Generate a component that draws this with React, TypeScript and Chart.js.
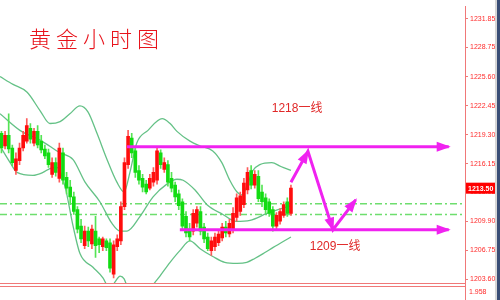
import { useEffect, useRef } from "react";
import { Chart, registerables } from "chart.js";

Chart.register(...registerables);

// Hourly gold candles, oldest first
const opens = [
  1219.45, 1218.07, 1219.24, 1217.86, 1215.42, 1216.48, 1217.86, 1218.6, 1219.98, 1218.39,
  1219.66, 1218.6, 1217.75, 1217.33, 1215.0, 1216.27, 1214.57, 1217.33, 1214.68, 1213.62,
  1212.56, 1211.18, 1209.38, 1207.26, 1208.85, 1207.47, 1208.85, 1208.0, 1207.15, 1207.79,
  1207.58, 1204.19, 1207.15, 1207.79, 1211.5, 1216.06, 1218.92, 1217.54, 1215.42, 1214.57,
  1213.94, 1213.51, 1214.15, 1214.36, 1217.33, 1215.53, 1216.06, 1214.57, 1213.83, 1212.88,
  1212.03, 1210.44, 1209.06, 1208.85, 1209.7, 1210.97, 1209.27, 1208.21, 1206.73, 1207.15,
  1207.58, 1208.11, 1209.27, 1208.53, 1209.06, 1210.33, 1210.97, 1211.71, 1213.3, 1215.42,
  1213.83, 1214.79, 1213.09, 1212.45, 1212.03, 1211.18, 1209.38, 1209.91, 1210.55, 1212.03,
  1210.76,
];
const highs = [
  1219.66, 1219.66, 1221.57, 1218.18, 1217.33, 1218.39, 1219.66, 1221.04, 1220.51, 1219.98,
  1220.3, 1219.24, 1218.18, 1217.75, 1216.8, 1216.8, 1218.39, 1217.86, 1215.21, 1214.36,
  1213.09, 1211.5, 1210.12, 1209.38, 1209.27, 1209.49, 1210.44, 1208.21, 1208.21, 1208.0,
  1208.0, 1207.79, 1208.43, 1212.03, 1216.8, 1219.77, 1219.45, 1217.86, 1215.95, 1215.0,
  1214.36, 1215.0, 1215.74, 1217.86, 1217.65, 1216.8, 1216.48, 1215.21, 1214.15, 1213.3,
  1212.35, 1210.97, 1209.7, 1211.18, 1211.5, 1211.5, 1209.7, 1208.64, 1208.21, 1208.64,
  1208.85, 1209.7, 1209.91, 1210.12, 1211.39, 1212.88, 1213.09, 1214.57, 1215.74, 1215.95,
  1215.42, 1215.42, 1213.83, 1212.88, 1212.35, 1211.5, 1210.86, 1211.29, 1212.03, 1212.45,
  1213.83,
];
const lows = [
  1217.33, 1217.75, 1217.33, 1215.95, 1215.0, 1216.06, 1217.54, 1218.39, 1218.39, 1218.07,
  1217.86, 1217.33, 1216.69, 1215.74, 1214.68, 1214.79, 1214.15, 1213.94, 1212.88, 1211.71,
  1210.65, 1208.64, 1207.58, 1206.94, 1207.15, 1206.94, 1205.99, 1206.52, 1206.73, 1206.73,
  1204.4, 1203.76, 1206.73, 1207.37, 1211.18, 1215.63, 1216.8, 1214.68, 1213.94, 1213.09,
  1212.88, 1213.3, 1213.73, 1213.94, 1215.63, 1215.21, 1213.73, 1213.09, 1212.03, 1211.18,
  1209.06, 1208.21, 1207.79, 1208.43, 1209.27, 1208.43, 1207.58, 1206.73, 1206.2, 1206.73,
  1207.26, 1207.79, 1208.21, 1208.21, 1208.64, 1209.91, 1210.55, 1211.39, 1212.88, 1213.41,
  1213.51, 1212.03, 1211.5, 1210.76, 1210.44, 1208.85, 1209.06, 1209.59, 1210.33, 1210.44,
  1210.55,
];
const closes = [
  1217.86, 1219.24, 1217.75, 1216.27, 1216.69, 1217.86, 1219.24, 1220.3, 1218.81, 1219.66,
  1218.18, 1217.65, 1217.01, 1216.06, 1216.27, 1215.21, 1217.86, 1214.36, 1213.51, 1212.56,
  1210.97, 1209.06, 1208.0, 1208.85, 1207.79, 1209.06, 1207.26, 1207.37, 1208.0, 1207.05,
  1204.82, 1207.37, 1208.0, 1211.5, 1216.27, 1219.13, 1217.33, 1215.21, 1214.36, 1213.62,
  1213.09, 1214.57, 1215.21, 1217.54, 1216.06, 1216.27, 1214.15, 1213.51, 1212.56, 1211.61,
  1209.38, 1208.64, 1208.21, 1210.76, 1211.18, 1208.85, 1208.0, 1206.94, 1207.79, 1208.21,
  1208.53, 1209.27, 1208.64, 1209.7, 1210.76, 1212.45, 1212.67, 1214.04, 1215.21, 1213.83,
  1215.0, 1212.35, 1212.03, 1211.18, 1210.76, 1209.38, 1210.55, 1210.97, 1211.71, 1210.76,
  1213.5,
];

// Bollinger bands, sampled as [bar index, price]
const upperBand = [
  [-0.4, 1225.6], [3.2, 1224.75], [7.1, 1223.9], [10.7, 1221.89], [13.4, 1220.51],
  [16.2, 1220.72], [18.9, 1221.57], [21.7, 1222.42], [23.9, 1221.78], [26.4, 1219.45],
  [29.2, 1216.59], [31.9, 1214.15], [33.9, 1213.09], [35.5, 1215.21], [37.4, 1218.39],
  [40.5, 1219.77], [44.4, 1221.04], [46.6, 1220.51], [48.5, 1219.66], [52.1, 1218.6],
  [54.9, 1218.07], [58.4, 1217.54], [60.9, 1216.27], [63.1, 1214.36], [65.1, 1213.09],
  [66.5, 1212.77], [67.9, 1213.83], [69.5, 1215.42], [71.4, 1216.06], [74.7, 1216.27],
  [77.2, 1215.85], [80.0, 1215.42],
];
const middleBand = [
  [-0.4, 1221.57], [5.1, 1219.77], [10.7, 1218.71], [16.2, 1217.33], [19.8, 1216.59],
  [23.1, 1214.15], [27.2, 1212.03], [30.5, 1209.7], [32.8, 1208.85], [34.7, 1208.85],
  [38.3, 1210.44], [41.9, 1212.56], [45.7, 1213.94], [48.5, 1214.47], [50.2, 1214.36],
  [53.5, 1213.3], [56.8, 1211.71], [61.2, 1210.65], [64.8, 1209.91], [68.7, 1210.02],
  [73.4, 1210.76], [80.0, 1211.61],
];
const lowerBand = [
  [-0.4, 1218.07], [2.4, 1216.27], [4.3, 1215.21], [8.7, 1214.89], [11.5, 1215.21],
  [13.4, 1215.63], [15.4, 1215.74], [17.6, 1213.62], [19.8, 1209.38], [21.7, 1206.41],
  [25.3, 1204.93], [28.1, 1203.76], [30.0, 1202.49], [31.4, 1203.34], [32.8, 1203.97],
  [33.9, 1203.66], [35.5, 1201.96], [38.3, 1200.37], [41.0, 1202.49], [43.8, 1203.97],
  [46.6, 1205.46], [49.3, 1206.73], [52.1, 1207.79], [54.9, 1206.94], [58.4, 1206.09],
  [61.7, 1205.46], [65.1, 1205.35], [67.8, 1205.46], [70.0, 1205.88], [72.8, 1206.52],
  [75.0, 1207.05], [80.0, 1208.21],
];

// Dash-dot reference levels
const refLevels = [1211.81, 1210.65];

// Support / resistance levels and the projected path
const resistanceLevel = 1218;
const supportLevel = 1209;
const projectedPath = [
  [80, 1214.15], [84.7, 1217.5], [91.6, 1209.0], [97.9, 1212.24],
];

const yTicks = [1203.6, 1206.75, 1209.9, 1213.05, 1216.15, 1219.3, 1222.45, 1225.6, 1228.75, 1231.85];
const subPanelValue = "1.958";
const title = "黄金小时图";

const X_MIN = -0.4;
const X_MAX = 128.1;
const MAGENTA = "#f022f0";
const UP = "#ff0d0d";
const DOWN = "#12dc12";

const pts = (arr: number[][]) => arr.map(([x, y]) => ({ x, y }));

function arrowHead(ctx: CanvasRenderingContext2D, from: any, to: any, len: number, half: number) {
  const a = Math.atan2(to.y - from.y, to.x - from.x);
  const c = Math.cos(a);
  const s = Math.sin(a);
  ctx.beginPath();
  ctx.moveTo(to.x + 2 * c, to.y + 2 * s);
  ctx.lineTo(to.x - len * c + half * s, to.y - len * s - half * c);
  ctx.lineTo(to.x - len * c - half * s, to.y - len * s + half * c);
  ctx.closePath();
  ctx.fill();
}

const overlay = {
  id: "overlay",
  afterDatasetsDraw(chart: any) {
    const ctx = chart.ctx;
    ctx.save();
    ctx.fillStyle = MAGENTA;
    chart.data.datasets.forEach((ds: any, i: number) => {
      if (!ds.arrow) return;
      const meta = chart.getDatasetMeta(i);
      const p = meta.data;
      for (let k = 1; k < p.length; k++) {
        arrowHead(ctx, p[k - 1], p[k], ds.arrow[0], ds.arrow[1]);
      }
    });
    ctx.restore();
  },
  afterDraw(chart: any) {
    const ctx = chart.ctx;
    const xs = chart.scales.x;
    const ys = chart.scales.y;
    const area = chart.chartArea;
    ctx.save();

    // title
    ctx.fillStyle = "#e8141c";
    ctx.font = '300 22px "Noto Sans CJK SC"';
    ctx.textBaseline = "alphabetic";
    ctx.textAlign = "left";
    (ctx as any).letterSpacing = "5px";
    ctx.fillText(title, 29, 47);
    (ctx as any).letterSpacing = "0px";

    // level labels
    ctx.fillStyle = "#e02828";
    ctx.font = '12px "Liberation Sans", "Noto Sans CJK SC"';
    ctx.textBaseline = "middle";
    ctx.fillText(`${resistanceLevel}一线`, xs.getPixelForValue(74.7), ys.getPixelForValue(1222.1));
    ctx.fillText(`${supportLevel}一线`, xs.getPixelForValue(85.2), ys.getPixelForValue(1207.15));

    // sub panel separator and axis continuation
    ctx.strokeStyle = "#f07878";
    ctx.lineWidth = 1;
    ctx.beginPath();
    ctx.moveTo(0, area.bottom + 0.5);
    ctx.lineTo(area.right + 1, area.bottom + 0.5);
    ctx.moveTo(0, area.bottom + 3.5);
    ctx.lineTo(area.right + 1, area.bottom + 3.5);
    ctx.moveTo(area.right + 0.5, area.bottom);
    ctx.lineTo(area.right + 0.5, 300);
    ctx.stroke();
    ctx.fillStyle = "#ff2a2a";
    ctx.font = '7px "Liberation Sans"';
    ctx.textBaseline = "middle";
    ctx.fillText(subPanelValue, area.right + 4, area.bottom + 9);

    // last price box
    const last = closes[closes.length - 1];
    const py = ys.getPixelForValue(last);
    ctx.fillStyle = "#ff0000";
    ctx.fillRect(area.right + 1, py - 5.5, 30, 11);
    ctx.fillStyle = "#ffffff";
    ctx.font = 'bold 7px "Liberation Sans"';
    ctx.fillText(last.toFixed(2), area.right + 3, py + 0.5);

    // window edge
    ctx.fillStyle = "#d6d6d6";
    ctx.fillRect(495, 0, 2, 300);
    ctx.fillStyle = "#3a4e76";
    ctx.fillRect(497, 0, 3, 300);
    ctx.restore();
  },
};

export default function App() {
  const ref = useRef<HTMLCanvasElement | null>(null);

  useEffect(() => {
    if (!ref.current) return;
    const idx = closes.map((_, i) => i);
    const colorOf = (i: number) => (closes[i] >= opens[i] ? UP : DOWN);
    const wickOf = (i: number) => (closes[i] >= opens[i] ? "#ff5a5a" : "#55e455");

    const chart = new Chart(ref.current, {
      type: "bar",
      data: {
        datasets: [
          {
            type: "line",
            label: "projection",
            data: pts(projectedPath),
            borderColor: MAGENTA,
            borderWidth: 3,
            pointRadius: 0,
            borderCapStyle: "butt",
            arrow: [12, 5],
            order: -2,
          } as any,
          {
            type: "line",
            label: "resistance",
            data: [{ x: 34.7, y: resistanceLevel }, { x: 123.6, y: resistanceLevel }],
            borderColor: MAGENTA,
            borderWidth: 3,
            pointRadius: 0,
            arrow: [12, 5],
            order: -1,
          } as any,
          {
            type: "line",
            label: "support",
            data: [{ x: 49.3, y: supportLevel }, { x: 123.6, y: supportLevel }],
            borderColor: MAGENTA,
            borderWidth: 3,
            pointRadius: 0,
            arrow: [12, 5],
            order: -1,
          } as any,
          {
            label: "body",
            data: idx.map((i) => ({ x: i, y: [opens[i], closes[i]] })),
            backgroundColor: idx.map(colorOf),
            barThickness: 3,
            minBarLength: 1,
            grouped: false,
            order: 0,
          } as any,
          {
            label: "wick",
            data: idx.map((i) => ({ x: i, y: [lows[i], highs[i]] })),
            backgroundColor: idx.map(wickOf),
            barThickness: 1,
            grouped: false,
            order: 1,
          } as any,
          ...[upperBand, middleBand, lowerBand].map((band, k) => ({
            type: "line",
            label: ["upper", "middle", "lower"][k],
            data: pts(band),
            borderColor: "rgba(92,190,128,0.95)",
            borderWidth: 1.3,
            pointRadius: 0,
            cubicInterpolationMode: "monotone",
            order: 2,
          })) as any,
          ...refLevels.map((lv) => ({
            type: "line",
            label: `ref ${lv}`,
            data: [{ x: X_MIN, y: lv }, { x: X_MAX, y: lv }],
            borderColor: "#6ede6e",
            borderWidth: 1.5,
            borderDash: [7, 3, 2, 3],
            pointRadius: 0,
            order: 3,
          })) as any,
        ],
      },
      options: {
        animation: false,
        responsive: false,
        layout: { padding: { left: 0, right: 0, top: 0, bottom: 17 } },
        plugins: {
          legend: { display: false },
          tooltip: { enabled: false },
        },
        scales: {
          x: { type: "linear", min: X_MIN, max: X_MAX, display: false, offset: false },
          y: {
            position: "right",
            min: 1203.22,
            max: 1233.23,
            afterBuildTicks: (s: any) => {
              s.ticks = yTicks.map((v) => ({ value: v }));
            },
            afterFit: (s: any) => {
              s.width = 35;
            },
            grid: { drawOnChartArea: false, drawTicks: true, tickLength: 3, tickColor: "#f07878" },
            border: { color: "#f07878", width: 1 },
            ticks: {
              color: "#ff2a2a",
              autoSkip: false,
              padding: 2,
              font: { family: '"Liberation Sans", Arial', size: 7 },
              callback: (v: any) => Number(v).toFixed(2),
            },
          },
        },
      } as any,
      plugins: [overlay],
    });
    return () => chart.destroy();
  }, []);

  return (
    <div style={{ position: "absolute", left: 0, top: 0, width: 500, height: 300, background: "#fff" }}>
      <canvas ref={ref} width={500} height={300} />
    </div>
  );
}
